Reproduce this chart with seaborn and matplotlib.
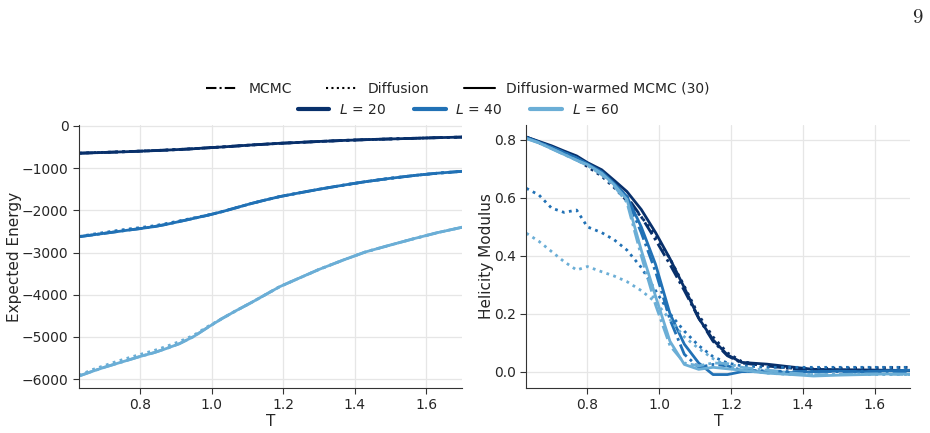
import pandas as pd
import seaborn as sns
import matplotlib.pyplot as plt
from matplotlib.lines import Line2D

# temperature grid
T = [0.63, 0.665, 0.70, 0.735, 0.77, 0.80, 0.84, 0.875, 0.91, 0.95, 0.99, 1.03,
     1.07, 1.11, 1.15, 1.19, 1.23, 1.30, 1.37, 1.43, 1.50, 1.57, 1.63, 1.70]

sizes = [20, 40, 60]
methods = ["MCMC", "Diffusion", "Diffusion-warmed MCMC (30)"]

# expected energy
energy_L20_mcmc = [-646, -637, -628, -618, -608, -598, -585, -572, -558, -540, -518, -498,
                   -475, -452, -432, -412, -396, -368, -343, -325, -308, -292, -278, -264]
energy_L20_diff = [-644, -634, -625, -615, -605, -596, -583, -570, -556, -539, -517, -497,
                   -475, -452, -432, -412, -396, -368, -343, -325, -308, -292, -278, -264]
energy_L20_warm = [-646, -637, -628, -618, -608, -598, -585, -572, -558, -540, -518, -498,
                   -475, -452, -432, -412, -396, -368, -343, -325, -308, -292, -278, -264]

energy_L40_mcmc = [-2624, -2585, -2545, -2505, -2465, -2433, -2385, -2330, -2265, -2190, -2115, -2030,
                   -1935, -1840, -1755, -1675, -1610, -1500, -1400, -1320, -1240, -1170, -1120, -1075]
energy_L40_diff = [-2620, -2570, -2525, -2480, -2440, -2410, -2365, -2310, -2250, -2180, -2110, -2030,
                   -1935, -1840, -1755, -1675, -1610, -1500, -1400, -1320, -1240, -1170, -1120, -1075]
energy_L40_warm = [-2624, -2585, -2545, -2505, -2465, -2433, -2385, -2330, -2265, -2190, -2115, -2030,
                   -1935, -1840, -1755, -1675, -1610, -1500, -1400, -1320, -1240, -1170, -1120, -1075]

energy_L60_mcmc = [-5925, -5820, -5720, -5630, -5540, -5463, -5370, -5270, -5160, -4990, -4770, -4560,
                   -4370, -4190, -4000, -3810, -3660, -3400, -3170, -2985, -2820, -2660, -2530, -2400]
energy_L60_diff = [-5910, -5780, -5680, -5580, -5490, -5415, -5320, -5220, -5110, -4960, -4750, -4560,
                   -4370, -4190, -4000, -3810, -3660, -3400, -3170, -2985, -2820, -2660, -2530, -2400]
energy_L60_warm = [-5925, -5820, -5720, -5630, -5540, -5463, -5370, -5270, -5160, -4990, -4770, -4560,
                   -4370, -4190, -4000, -3810, -3660, -3400, -3170, -2985, -2820, -2660, -2530, -2400]

# helicity modulus
helic_L20_mcmc = [0.810, 0.793, 0.777, 0.758, 0.740, 0.717, 0.690, 0.650, 0.605, 0.535, 0.455, 0.370,
                  0.280, 0.185, 0.105, 0.055, 0.030, 0.020, 0.010, 0.005, 0.005, 0.004, 0.003, 0.003]
helic_L20_diff = [0.810, 0.790, 0.772, 0.752, 0.733, 0.708, 0.675, 0.635, 0.590, 0.535, 0.470, 0.390,
                  0.295, 0.195, 0.120, 0.065, 0.035, 0.020, 0.012, 0.010, 0.012, 0.013, 0.014, 0.015]
helic_L20_warm = [0.810, 0.795, 0.780, 0.762, 0.745, 0.722, 0.697, 0.660, 0.622, 0.560, 0.480, 0.390,
                  0.290, 0.185, 0.110, 0.058, 0.032, 0.026, 0.016, 0.008, 0.007, 0.006, 0.005, 0.004]

helic_L40_mcmc = [0.808, 0.792, 0.775, 0.757, 0.738, 0.716, 0.685, 0.645, 0.600, 0.480, 0.345, 0.180,
                  0.060, 0.015, 0.025, 0.020, 0.005, 0.003, 0.000, 0.002, 0.000, 0.002, 0.000, 0.000]
helic_L40_diff = [0.633, 0.610, 0.565, 0.550, 0.558, 0.500, 0.480, 0.455, 0.420, 0.360, 0.280, 0.200,
                  0.140, 0.090, 0.052, 0.030, 0.020, 0.015, 0.015, 0.015, 0.015, 0.015, 0.015, 0.015]
helic_L40_warm = [0.808, 0.792, 0.775, 0.757, 0.738, 0.718, 0.690, 0.650, 0.605, 0.500, 0.370, 0.200,
                  0.095, 0.030, -0.010, -0.010, 0.000, 0.000, -0.003, 0.000, 0.002, 0.000, 0.003, 0.005]

helic_L60_mcmc = [0.805, 0.790, 0.770, 0.750, 0.730, 0.712, 0.680, 0.640, 0.585, 0.400, 0.230, 0.090,
                  0.030, 0.020, 0.030, 0.028, 0.015, 0.005, -0.005, -0.010, -0.010, -0.008, -0.008, -0.010]
helic_L60_diff = [0.478, 0.450, 0.415, 0.380, 0.351, 0.363, 0.345, 0.330, 0.311, 0.280, 0.240, 0.180,
                  0.120, 0.080, 0.045, 0.020, 0.005, -0.005, -0.010, -0.010, -0.010, -0.010, -0.010, -0.010]
helic_L60_warm = [0.805, 0.790, 0.770, 0.750, 0.730, 0.715, 0.685, 0.645, 0.595, 0.420, 0.260, 0.105,
                  0.025, 0.008, 0.015, 0.010, 0.005, -0.005, -0.010, -0.015, -0.012, -0.010, -0.008, -0.008]

energy = {
    (20, "MCMC"): energy_L20_mcmc, (20, "Diffusion"): energy_L20_diff, (20, methods[2]): energy_L20_warm,
    (40, "MCMC"): energy_L40_mcmc, (40, "Diffusion"): energy_L40_diff, (40, methods[2]): energy_L40_warm,
    (60, "MCMC"): energy_L60_mcmc, (60, "Diffusion"): energy_L60_diff, (60, methods[2]): energy_L60_warm,
}
helicity = {
    (20, "MCMC"): helic_L20_mcmc, (20, "Diffusion"): helic_L20_diff, (20, methods[2]): helic_L20_warm,
    (40, "MCMC"): helic_L40_mcmc, (40, "Diffusion"): helic_L40_diff, (40, methods[2]): helic_L40_warm,
    (60, "MCMC"): helic_L60_mcmc, (60, "Diffusion"): helic_L60_diff, (60, methods[2]): helic_L60_warm,
}

rows = []
for (L, m), vals in energy.items():
    for t, e, h in zip(T, vals, helicity[(L, m)]):
        rows.append({"T": t, "L": L, "method": m, "energy": e, "helicity": h})
df = pd.DataFrame(rows)

colors = {20: "#08306b", 40: "#2171b5", 60: "#6baed6"}
dashes = {"MCMC": (5, 1.5, 1, 1.5), "Diffusion": (1, 1.6), methods[2]: ""}

sns.set_style("ticks")
plt.rcParams["font.family"] = ["DejaVu Sans"]

fig = plt.figure(figsize=(9.3, 4.33), dpi=100)
ax1 = fig.add_axes([0.085, 0.104, 0.412, 0.607])
ax2 = fig.add_axes([0.566, 0.104, 0.413, 0.607])

for ax, col, ylabel in [(ax1, "energy", "Expected Energy"), (ax2, "helicity", "Helicity Modulus")]:
    sns.lineplot(data=df, x="T", y=col, hue="L", style="method", palette=colors,
                 dashes=dashes, style_order=methods, linewidth=2, ax=ax, legend=False)
    ax.set_xlim(0.63, 1.70)
    ax.set_xlabel("T", fontsize=11, labelpad=1)
    ax.set_ylabel(ylabel, fontsize=11, labelpad=0)
    ax.grid(True, color="#e6e6e6", linewidth=0.9)
    ax.tick_params(labelsize=10, length=4, color="#333333")
    for s in ["top", "right"]:
        ax.spines[s].set_visible(False)
    for s in ["left", "bottom"]:
        ax.spines[s].set_color("#333333")

ax1.set_yticks([0, -1000, -2000, -3000, -4000, -5000, -6000])
ax1.set_xticks([0.8, 1.0, 1.2, 1.4, 1.6])
ax2.set_xticks([0.8, 1.0, 1.2, 1.4, 1.6])
ax2.set_yticks([0.0, 0.2, 0.4, 0.6, 0.8])

style_handles = [Line2D([], [], color="black", lw=1.5, dashes=dashes[m]) if m != methods[2]
                 else Line2D([], [], color="black", lw=1.5) for m in methods]
fig.legend(style_handles, methods, loc="center", bbox_to_anchor=(0.4925, 0.795),
           ncol=3, frameon=False, fontsize=10, handlelength=2.2, columnspacing=2.5)
size_handles = [Line2D([], [], color=colors[L], lw=3) for L in sizes]
fig.legend(size_handles, [f"$L$ = {L}" for L in sizes], loc="center",
           bbox_to_anchor=(0.4925, 0.746), ncol=3, frameon=False, fontsize=10,
           handlelength=2.3, handletextpad=0.7, columnspacing=2.0)

fig.text(0.992, 0.958, "9", family="cmr10", fontsize=15, ha="right", va="center")

plt.savefig("out.png", dpi=100)
